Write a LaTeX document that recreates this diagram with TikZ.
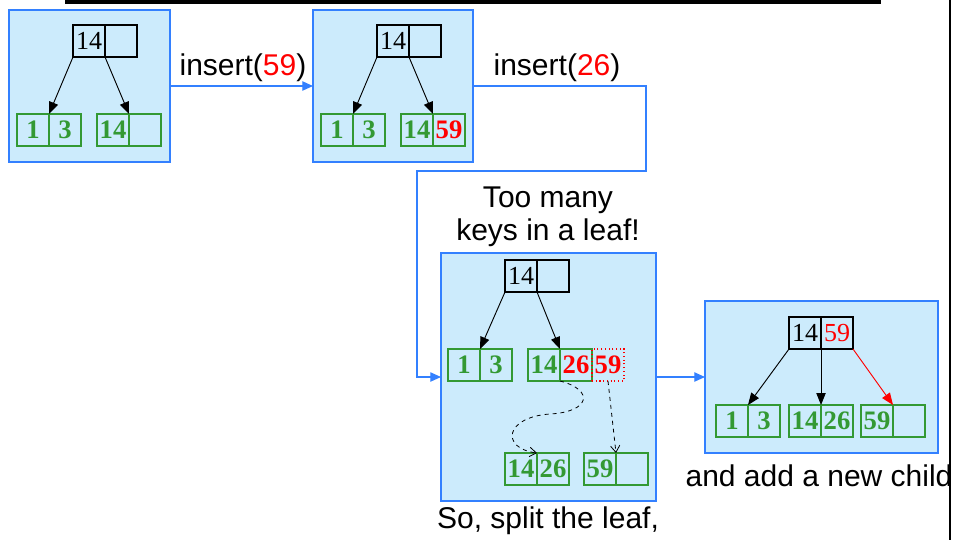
\documentclass[tikz,border=0pt]{standalone}
\usepackage{fontspec}
\setmainfont{Liberation Serif}
\newfontfamily\labelfont{Liberation Sans}
\usetikzlibrary{arrows.meta}

\definecolor{panelfill}{RGB}{204,235,252}
\definecolor{paneledge}{RGB}{51,128,255}
\definecolor{leafgreen}{RGB}{51,153,51}

\begin{document}
\begin{tikzpicture}[
    x=0.75pt, y=-0.75pt,
    every node/.style={inner sep=0pt, outer sep=0pt},
    panel/.style={draw=paneledge, fill=panelfill, line width=0.9pt},
    key/.style={draw=black, line width=0.8pt, minimum width=24pt, minimum height=24pt,
                font=\fontsize{19.5}{21}\selectfont},
    leaf/.style={key, draw=leafgreen, text=leafgreen,
                 font=\fontsize{20}{21}\selectfont\bfseries},
    note/.style={font=\labelfont\fontsize{22.5}{25}\selectfont, align=center},
    ptr/.style={-{Triangle[length=9pt,width=7pt]}, line width=0.7pt},
    flow/.style={-{Triangle[length=8pt,width=7pt]}, draw=paneledge, line width=0.9pt},
    move/.style={-{Straight Barb[length=5pt,width=7pt]}, dashed, line width=0.6pt},
]
\useasboundingbox (0,0) rectangle (953,540);

% ---- page rules ----
\fill (65,0) rectangle (881,3.5);
\fill (949,0) rectangle (951,540);

% ---- the four stages ----
\node[panel, minimum width=120.75pt, minimum height=114pt] (p1) at (89.5,86) {};
\node[panel, minimum width=120pt,    minimum height=114pt] (p2) at (393,86) {};
\node[panel, minimum width=161.25pt, minimum height=186pt] (p3) at (548.5,377) {};
\node[panel, minimum width=174.75pt, minimum height=114pt] (p4) at (821.5,377) {};

% ---- stage 1 ----
\node[key]  (r1a) at (89,41)  {14};
\node[key]  (r1b) at (121,41) {};
\node[leaf] (l1a) at (33,130)  {1};
\node[leaf] (l1b) at (65,130)  {3};
\node[leaf] (l1c) at (113,130) {14};
\node[leaf] (l1d) at (145,130) {};
\draw[ptr] (r1a.south west) -- (l1a.north east);
\draw[ptr] (r1a.south east) -- (l1c.north east);

% ---- stage 2 ----
\node[key]  (r2a) at (393,41) {14};
\node[key]  (r2b) at (425,41) {};
\node[leaf] (l2a) at (337,130) {1};
\node[leaf] (l2b) at (369,130) {3};
\node[leaf] (l2c) at (417,130) {14};
\node[leaf, text=red] (l2d) at (449,130) {59};
\draw[ptr] (r2a.south west) -- (l2a.north east);
\draw[ptr] (r2a.south east) -- (l2c.north east);

% ---- stage 3: overfull leaf and its split ----
\node[key]  (r3a) at (521,276) {14};
\node[key]  (r3b) at (553,276) {};
\node[leaf] (l3a) at (464,365) {1};
\node[leaf] (l3b) at (496,365) {3};
\node[leaf] (l3c) at (544,365) {14};
\node[leaf, text=red] (l3d) at (576,365) {26};
\node[leaf, text=red, draw=red, dotted] (l3e) at (608,365) {59};
\node[leaf] (n3a) at (521,469) {14};
\node[leaf] (n3b) at (553,469) {26};
\node[leaf] (n3c) at (600,469) {59};
\node[leaf] (n3d) at (632,469) {};
\draw[ptr] (r3a.south west) -- (l3a.north east);
\draw[ptr] (r3a.south east) -- (l3c.north east);
\draw[move] (l3c.south east) .. controls (595,390) and (590,412) .. (550,414)
                             .. controls (505,417) and (500,448) .. (n3a.north east);
\draw[move] (l3e.south) -- (n3c.north east);

% ---- stage 4 ----
\node[key]  (r4a) at (805,333) {14};
\node[key, text=red] (r4b) at (837,333) {59};
\node[leaf] (l4a) at (732,421) {1};
\node[leaf] (l4b) at (764,421) {3};
\node[leaf] (l4c) at (805,421) {14};
\node[leaf] (l4d) at (837,421) {26};
\node[leaf] (l4e) at (877,421) {59};
\node[leaf] (l4f) at (909,421) {};
\draw[ptr] (r4a.south west) -- (l4a.north east);
\draw[ptr] (r4a.south east) -- (l4c.north east);
\draw[ptr, red] (r4b.south east) -- (l4e.north east);

% ---- transitions ----
\coordinate (t1) at (646,171);
\coordinate (t2) at (417,171);
\draw[flow] (p1.east) -- (p2.west);
\draw[flow] (p2.east) -| (t1) -- (t2) |- (p3.west);
\draw[flow] (p3.east) -- (p4.west);

% ---- captions ----
\node[note] (ins1) at (243,68) {insert(\textcolor{red}{59})};
\node[note] (ins2) at (557,68) {insert(\textcolor{red}{26})};
\node[note] (over) at (548,217) {Too many\\keys in a leaf!};
\node[note] (split) at (548,521) {So, split the leaf,};
\node[note] (child) at (819,476) {and add a new child};

\end{tikzpicture}
\end{document}
